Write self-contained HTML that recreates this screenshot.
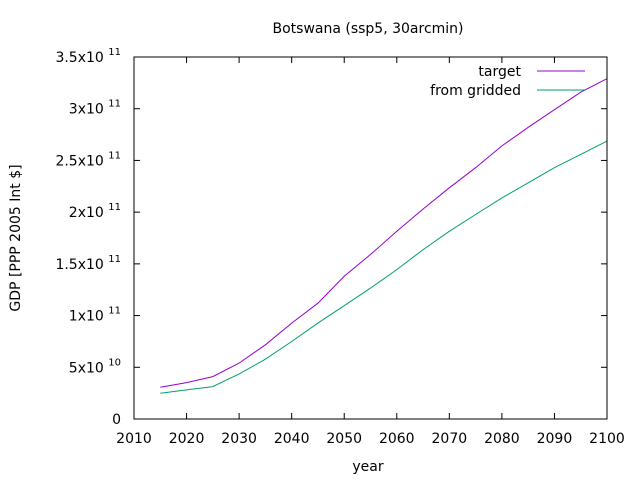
<!DOCTYPE html>
<html><head><meta charset="utf-8"><style>
body{margin:0;background:#fff;}
svg{display:block;font-family:"DejaVu Sans","Liberation Sans",sans-serif;}
</style></head><body>
<svg id="chart" width="640" height="480">
<text x="368" y="33" font-size="14" text-anchor="middle">Botswana (ssp5, 30arcmin)</text>
<text x="368" y="471" font-size="14" text-anchor="middle">year</text>
<text transform="translate(20,238) rotate(-90)" font-size="14" text-anchor="middle">GDP [PPP 2005 Int $]</text>
<g id="axes"></g>
<g id="series"></g>
<g>
<text x="521" y="76" font-size="14" text-anchor="end">target</text>
<line x1="537" y1="71" x2="585" y2="71" stroke="#9400d3" stroke-width="1"/>
<text x="521" y="95" font-size="14" text-anchor="end">from gridded</text>
<line x1="537" y1="90" x2="585" y2="90" stroke="#009e73" stroke-width="1"/>
</g>
<rect x="134" y="57" width="473" height="362" fill="none" stroke="#000" stroke-width="1"/>
</svg>
<script>
const years=[2015,2020,2025,2030,2035,2040,2045,2050,2055,2060,2065,2070,2075,2080,2085,2090,2095,2100];
const targetVals=[0.307,0.352,0.41,0.54,0.717,0.927,1.12,1.38,1.59,1.815,2.03,2.235,2.43,2.64,2.82,2.99,3.16,3.29];
const griddedVals=[0.249,0.281,0.313,0.436,0.578,0.749,0.927,1.095,1.266,1.444,1.638,1.815,1.977,2.138,2.284,2.43,2.558,2.687];
const xTicks=[2010,2020,2030,2040,2050,2060,2070,2080,2090,2100];
const yTicks=[0,0.5,1,1.5,2,2.5,3,3.5];
const yTickMant=["0","5","1","1.5","2","2.5","3","3.5"];
const yTickExp=["","10","11","11","11","11","11","11"];

const X0=134,X1=607,Y0=419,Y1=57;
const xs=v=>X0+(v-2010)/90*(X1-X0);
const ys=v=>Y0-v/3.5*(Y0-Y1);
const NS="http://www.w3.org/2000/svg";
const axes=document.getElementById('axes');
function mk(t,a,p){const e=document.createElementNS(NS,t);for(const k in a)e.setAttribute(k,a[k]);p.appendChild(e);return e;}
xTicks.forEach((t,i)=>{
  const x=xs(t);
  const l1=mk('line',{x1:x,y1:Y0,x2:x,y2:Y0-6,stroke:'#000'},axes);
  
  
  const l2=mk('line',{x1:x,y1:Y1,x2:x,y2:Y1+6,stroke:'#000'},axes);
  
  
  const tx=mk('text',{x:x,y:443,'font-size':14,'text-anchor':'middle'},axes);
  tx.textContent=t;
  
  
});
yTicks.forEach((t,i)=>{
  const y=ys(t);
  if(i>0){
    const l1=mk('line',{x1:X0,y1:y,x2:X0+6,y2:y,stroke:'#000'},axes);
    
    
    const l2=mk('line',{x1:X1,y1:y,x2:X1-6,y2:y,stroke:'#000'},axes);
    
    
  }
  const tx=mk('text',{x:121,y:y+5,'font-size':14,'text-anchor':'end'},axes);
  
  
  if(yTickExp[i]===''){tx.textContent=yTickMant[i];}
  else{
    tx.appendChild(document.createTextNode(yTickMant[i]+'x10 '));
    const sp=mk('tspan',{dy:-7,'font-size':10},tx);
    sp.textContent=yTickExp[i];
  }
});
const series=document.getElementById('series');
function line(vals,color,name){
  const d=vals.map((v,i)=>(i?'L':'M')+xs(years[i]).toFixed(1)+' '+ys(v).toFixed(1)).join(' ');
  const p=mk('path',{d:d,fill:'none',stroke:color,'stroke-width':1},series);
  
  
}
line(targetVals,'#9400d3','target-line');
line(griddedVals,'#009e73','gridded-line');
</script>
</body></html>
